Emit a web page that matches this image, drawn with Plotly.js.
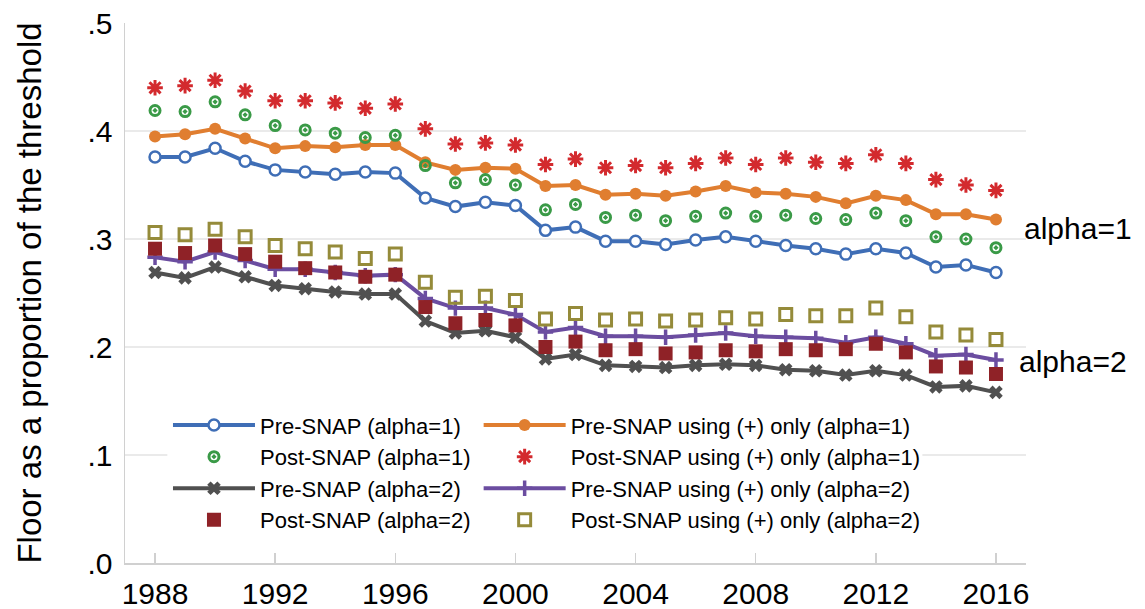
<!DOCTYPE html>
<html>
<head>
<meta charset="utf-8">
<script src="https://cdn.plot.ly/plotly-3.0.1.min.js"></script>
<style>html,body{margin:0;padding:0;background:#fff;}#chart{width:1145px;height:609px;}</style>
</head>
<body>
<div id="chart"></div>
<script>
const years = [1988,1989,1990,1991,1992,1993,1994,1995,1996,1997,1998,1999,2000,2001,2002,2003,2004,2005,2006,2007,2008,2009,2010,2011,2012,2013,2014,2015,2016];
const preA1      = [.376,.376,.384,.372,.364,.362,.360,.362,.361,.338,.330,.334,.331,.308,.311,.298,.298,.295,.299,.302,.298,.294,.291,.286,.291,.287,.274,.276,.269];
const prePlusA1  = [.395,.397,.402,.393,.384,.386,.385,.387,.387,.371,.364,.366,.365,.349,.350,.341,.342,.340,.344,.349,.343,.342,.339,.333,.340,.336,.323,.323,.318];
const postA1     = [.419,.418,.427,.415,.405,.401,.398,.394,.396,.368,.352,.355,.350,.327,.332,.320,.322,.317,.321,.324,.321,.322,.319,.318,.324,.317,.302,.300,.292];
const postPlusA1 = [.440,.442,.447,.437,.428,.428,.426,.421,.425,.402,.388,.389,.387,.369,.374,.366,.368,.366,.370,.375,.369,.375,.371,.370,.378,.370,.355,.350,.345];
const preA2      = [.269,.264,.274,.265,.257,.254,.251,.249,.249,.224,.213,.215,.209,.189,.193,.183,.182,.181,.183,.184,.183,.179,.178,.174,.178,.174,.163,.164,.158];
const prePlusA2  = [.283,.279,.288,.280,.272,.272,.269,.266,.267,.245,.236,.236,.230,.214,.218,.210,.210,.209,.211,.213,.210,.209,.208,.204,.209,.203,.192,.193,.188];
const postA2     = [.291,.287,.294,.286,.279,.273,.269,.265,.267,.237,.222,.225,.220,.200,.205,.197,.198,.194,.195,.197,.196,.198,.197,.198,.203,.195,.182,.181,.175];
const postPlusA2 = [.306,.304,.309,.302,.294,.291,.288,.282,.286,.260,.246,.247,.243,.226,.231,.225,.226,.224,.225,.227,.226,.230,.229,.229,.236,.228,.214,.211,.207];

const seriesNames = ['Pre-SNAP (alpha=1)','Pre-SNAP using (+) only (alpha=1)','Post-SNAP (alpha=1)','Post-SNAP using (+) only (alpha=1)','Pre-SNAP (alpha=2)','Pre-SNAP using (+) only (alpha=2)','Post-SNAP (alpha=2)','Post-SNAP using (+) only (alpha=2)'];
const xTickVals = [1988,1992,1996,2000,2004,2008,2012,2016];
const yTickVals = [0,0.1,0.2,0.3,0.4,0.5];
const yTickText = ['.0','.1','.2','.3','.4','.5'];
const gridVals = [0.1,0.2,0.3,0.4];
const labelTexts = ['alpha=1','alpha=2'];
const labelYs = [0.31,0.187];
const labelShifts = [-4,-9];

const FONT = 'Liberation Sans, Arial, sans-serif';

const traces = [
  {y: preA1, name: seriesNames[0], legend:'legend', mode:'lines+markers', line:{color:'#3F6EB6',width:4},
   marker:{symbol:'circle', size:11, color:'#ffffff', line:{color:'#3F6EB6',width:2.5}}},
  {y: prePlusA1, name: seriesNames[1], legend:'legend2', mode:'lines+markers', line:{color:'#E07E30',width:4},
   marker:{symbol:'circle', size:12, color:'#E07E30'}},
  {y: postA1, name: seriesNames[2], legend:'legend', mode:'markers',
   marker:{symbol:'circle-open-dot', size:10, color:'#3A9A47', line:{color:'#3A9A47',width:3}}},
  {y: postPlusA1, name: seriesNames[3], legend:'legend2', mode:'markers',
   marker:{symbol:'asterisk-open', size:13, color:'#D32A2E', line:{color:'#D32A2E',width:3}}},
  {y: preA2, name: seriesNames[4], legend:'legend', mode:'lines+markers', line:{color:'#505050',width:4},
   marker:{symbol:'x', size:12, color:'#505050'}},
  {y: prePlusA2, name: seriesNames[5], legend:'legend2', mode:'lines+markers', line:{color:'#6B4DA0',width:4},
   marker:{symbol:'cross-thin-open', size:11, color:'#6B4DA0', line:{color:'#6B4DA0',width:3.5}}},
  {y: postA2, name: seriesNames[6], legend:'legend', mode:'markers',
   marker:{symbol:'square', size:14, color:'#8F2227'}},
  {y: postPlusA2, name: seriesNames[7], legend:'legend2', mode:'markers',
   marker:{symbol:'square-open', size:12, color:'#958B3A', line:{color:'#958B3A',width:3}}}
].map(t => Object.assign({x: years, type:'scatter', cliponaxis:false}, t));

const shapes = gridVals.map(v => ({type:'line', xref:'paper', x0:0, x1:1, yref:'y', y0:v, y1:v,
  line:{color:'#e3e3e3', width:1.5}, layer:'below'}));
// white backing behind the legend block
shapes.push({type:'rect', xref:'paper', x0:0.047, x1:0.885, yref:'paper', y0:0.045, y1:0.29,
  fillcolor:'#ffffff', line:{width:0}, layer:'below'});

const annotations = labelTexts.map((t,i) => ({text:t, xref:'paper', x:1.0, xanchor:'left', xshift:labelShifts[i],
  yref:'y', y:labelYs[i], yanchor:'middle', showarrow:false, font:{family:FONT, size:30, color:'#000'}}));

const legendBase = {orientation:'v', yanchor:'top', y:0.294, xanchor:'left',
  bgcolor:'rgba(255,255,255,0)', font:{family:FONT, size:22, color:'#000'}, itemwidth:82, traceorder:'normal', tracegroupgap:0};

const layout = {
  width:1145, height:609,
  margin:{l:125, r:119, t:23, b:46},
  paper_bgcolor:'#fff', plot_bgcolor:'#fff',
  font:{family:FONT, color:'#000'},
  showlegend:true,
  legend: Object.assign({}, legendBase, {x:0.0477}),
  legend2: Object.assign({}, legendBase, {x:0.3925}),
  xaxis:{range:[1987,2017], tickvals:xTickVals, ticks:'inside', ticklen:10, tickcolor:'#d0d0d0', tickwidth:1.5,
    showgrid:false, zeroline:false, showline:true, linecolor:'#d0d0d0', linewidth:1.5, ticklabelstandoff:3,
    tickfont:{family:FONT, size:30, color:'#000'}},
  yaxis:{range:[0,0.5], tickvals:yTickVals, ticktext:yTickText, ticks:'', showgrid:false, zeroline:false,
    showline:true, linecolor:'#d0d0d0', linewidth:1.5, ticklabelstandoff:5,
    tickfont:{family:FONT, size:30, color:'#000'},
    title:{text:'Floor as a proportion of the threshold', font:{family:FONT, size:33, color:'#000'}, standoff:36}},
  shapes: shapes,
  annotations: annotations
};

Plotly.newPlot('chart', traces, layout, {displayModeBar:false, staticPlot:true});
</script>
</body>
</html>
